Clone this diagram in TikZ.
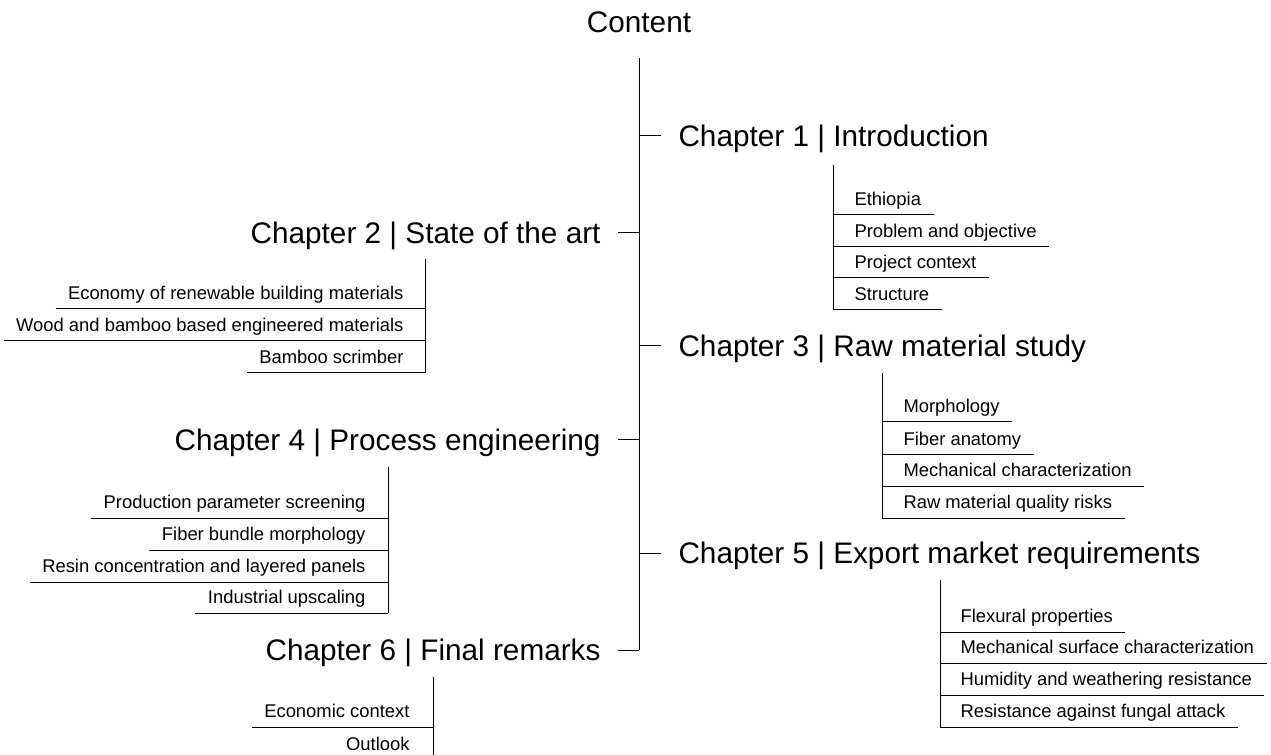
\documentclass[tikz,border=0pt]{standalone}
\usepackage{fontspec}
\setmainfont{Liberation Sans}
\usepackage{tikz}

\begin{document}
\begin{tikzpicture}[x=0.75pt,y=-0.75pt,line width=0.75pt,
            chapter/.style = {font=\fontsize{22.3}{26}\selectfont,
                        text height=16pt, text depth=0pt,
                        inner ysep=0pt, inner xsep=12.75pt},
            item/.style = {font=\fontsize{13.8}{16}\selectfont,
                        text depth=0pt, inner xsep=9pt, inner ysep=7pt}]
            \useasboundingbox (0,0) rectangle (1271,755);
            % Title and main line
            \node[font=\fontsize{22.3}{26}\selectfont, anchor=base] (content) at (639,33) {Content};
            \coordinate (top) at (639,58);
            % Chapters
            \node[chapter, anchor=west] (ch1) at (661,136) {Chapter 1 | Introduction};
            \node[chapter, anchor=east] (ch2) at (618,233) {Chapter 2 | State of the art};
            \node[chapter, anchor=west] (ch3) at (661,346) {Chapter 3 | Raw material study};
            \node[chapter, anchor=east] (ch4) at (618,440) {Chapter 4 | Process engineering};
            \node[chapter, anchor=west] (ch5) at (661,553) {Chapter 5 | Export market requirements};
            \node[chapter, anchor=east] (ch6) at (618,650) {Chapter 6 | Final remarks};
            \draw (top) -- (top |- ch6.east);
            \draw (top |- ch1.west) -- (ch1.west);
            \draw (top |- ch2.east) -- (ch2.east);
            \draw (top |- ch3.west) -- (ch3.west);
            \draw (top |- ch4.east) -- (ch4.east);
            \draw (top |- ch5.west) -- (ch5.west);
            \draw (top |- ch6.east) -- (ch6.east);
            % Chapter 1 sections
            \coordinate (c1v) at (833,165);
            \node[item, anchor=south west] (c1a) at (842,215) {Ethiopia};
            \node[item, anchor=south west] (c1b) at (842,247) {Problem and objective};
            \node[item, anchor=south west] (c1c) at (842,278) {Project context};
            \node[item, anchor=south west] (c1d) at (842,310) {Structure};
            \draw (c1v) -- (c1v |- c1d.south);
            \draw (c1v |- c1a.south) -- (c1a.south east);
            \draw (c1v |- c1b.south) -- (c1b.south east);
            \draw (c1v |- c1c.south) -- (c1c.south east);
            \draw (c1v |- c1d.south) -- (c1d.south east);
            % Chapter 2 sections
            \coordinate (c2v) at (425,259);
            \node[item, anchor=south east] (c2a) at (416,309) {Economy of renewable building materials};
            \node[item, anchor=south east] (c2b) at (416,341) {Wood and bamboo based engineered materials};
            \node[item, anchor=south east] (c2c) at (416,373) {Bamboo scrimber};
            \draw (c2v) -- (c2v |- c2c.south);
            \draw (c2a.south west) -- (c2v |- c2a.south);
            \draw (c2b.south west) -- (c2v |- c2b.south);
            \draw (c2c.south west) -- (c2v |- c2c.south);
            % Chapter 3 sections
            \coordinate (c3v) at (882,373);
            \node[item, anchor=south west] (c3a) at (891,422) {Morphology};
            \node[item, anchor=south west] (c3b) at (891,455) {Fiber anatomy};
            \node[item, anchor=south west] (c3c) at (891,486) {Mechanical characterization};
            \node[item, anchor=south west] (c3d) at (891,518) {Raw material quality risks};
            \draw (c3v) -- (c3v |- c3d.south);
            \draw (c3v |- c3a.south) -- (c3a.south east);
            \draw (c3v |- c3b.south) -- (c3b.south east);
            \draw (c3v |- c3c.south) -- (c3c.south east);
            \draw (c3v |- c3d.south) -- (c3d.south east);
            % Chapter 4 sections
            \coordinate (c4v) at (388,467);
            \node[item, anchor=south east] (c4a) at (378,518) {Production parameter screening};
            \node[item, anchor=south east] (c4b) at (378,550) {Fiber bundle morphology};
            \node[item, anchor=south east] (c4c) at (378,582) {Resin concentration and layered panels};
            \node[item, anchor=south east] (c4d) at (378,613) {Industrial upscaling};
            \draw (c4v) -- (c4v |- c4d.south);
            \draw (c4a.south west) -- (c4v |- c4a.south);
            \draw (c4b.south west) -- (c4v |- c4b.south);
            \draw (c4c.south west) -- (c4v |- c4c.south);
            \draw (c4d.south west) -- (c4v |- c4d.south);
            % Chapter 5 sections
            \coordinate (c5v) at (940,580);
            \node[item, anchor=south west] (c5a) at (948,632) {Flexural properties};
            \node[item, anchor=south west] (c5b) at (948,663) {Mechanical surface characterization};
            \node[item, anchor=south west] (c5c) at (948,695) {Humidity and weathering resistance};
            \node[item, anchor=south west] (c5d) at (948,727) {Resistance against fungal attack};
            \draw (c5v) -- (c5v |- c5d.south);
            \draw (c5v |- c5a.south) -- (c5a.south east);
            \draw (c5v |- c5b.south) -- (c5b.south east);
            \draw (c5v |- c5c.south) -- (c5c.south east);
            \draw (c5v |- c5d.south) -- (c5d.south east);
            % Chapter 6 sections
            \coordinate (c6v) at (433,677);
            \coordinate (c6end) at (433,755);
            \node[item, anchor=south east] (c6a) at (422,727) {Economic context};
            \node[item, anchor=south east] (c6b) at (422,760) {Outlook};
            \draw (c6v) -- (c6end);
            \draw (c6a.south west) -- (c6v |- c6a.south);
        \end{tikzpicture}
\end{document}
